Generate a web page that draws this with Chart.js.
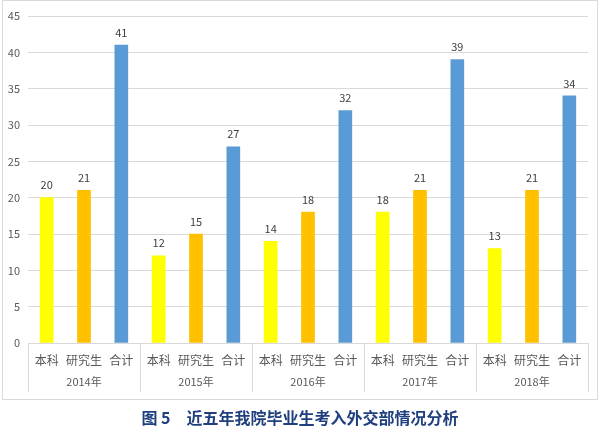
<!DOCTYPE html>
<html>
<head>
<meta charset="utf-8">
<script src="https://cdn.jsdelivr.net/npm/chart.js@4"></script>
<style>
  html, body { margin: 0; padding: 0; background: #fff; }
  #wrap { width: 600px; height: 428px; position: relative; }
</style>
</head>
<body>
<div id="wrap"><canvas id="chart"></canvas></div>
<script>
// groups (years) and the three bars per group
const years = ['2014年', '2015年', '2016年', '2017年', '2018年'];
const kinds = ['本科', '研究生', '合计'];

// values
const undergrad = [20, 12, 14, 18, 13];
const graduate = [21, 15, 18, 21, 21];
const total = [41, 27, 32, 39, 34];

const kindColors = ['#FFFF00', '#FFC000', '#5B9BD5'];
const titleText = '图 5　近五年我院毕业生考入外交部情况分析';
const font = '"Noto Sans CJK SC", "Noto Sans", sans-serif';

// flatten into 15 categories
const labels = [];
const values = [];
const colors = [];
years.forEach((y, i) => {
    const row = [undergrad[i], graduate[i], total[i]];
    kinds.forEach((k, j) => {
        labels.push(k);
        values.push(row[j]);
        colors.push(kindColors[j]);
    });
});

// value labels above bars, year row, separators, frame and title
const decorations = {
    id: 'decorations',
    afterDatasetsDraw(chart) {
        const ctx = chart.ctx;
        const meta = chart.getDatasetMeta(0);
        ctx.save();
        ctx.fillStyle = '#404040';
        ctx.font = '11px ' + font;
        ctx.textAlign = 'center';
        ctx.textBaseline = 'bottom';
        meta.data.forEach((bar, i) => {
            ctx.fillText(values[i], bar.x, bar.y - 7);
        });
        ctx.restore();
    },
    afterDraw(chart) {
        const ctx = chart.ctx;
        const x = chart.scales.x;
        const area = chart.chartArea;
        const step = x.getPixelForValue(1) - x.getPixelForValue(0);
        ctx.save();
        // group separators
        ctx.strokeStyle = '#D9D9D9';
        ctx.lineWidth = 1;
        for (let g = 0; g <= years.length; g++) {
            const px = Math.round(x.getPixelForValue(g * 3) - step / 2) + 0.5;
            ctx.beginPath();
            ctx.moveTo(px, area.bottom);
            ctx.lineTo(px, area.bottom + 49);
            ctx.stroke();
        }
        // year labels
        ctx.fillStyle = '#595959';
        ctx.font = '11px ' + font;
        ctx.textAlign = 'center';
        ctx.textBaseline = 'middle';
        years.forEach((y, g) => {
            ctx.fillText(y, x.getPixelForValue(g * 3 + 1), area.bottom + 39);
        });
        // outer frame
        ctx.strokeStyle = '#D9D9D9';
        ctx.strokeRect(2.5, 0.5, 595, 399);
        // caption
        ctx.fillStyle = '#1F3F7F';
        ctx.font = 'bold 16px ' + font;
        ctx.fillText(titleText, 300, 418);
        ctx.restore();
    }
};

new Chart(document.getElementById('chart'), {
    type: 'bar',
    data: {
        labels: labels,
        datasets: [{
            data: values,
            backgroundColor: colors,
            barThickness: 13
        }]
    },
    options: {
        responsive: true,
        maintainAspectRatio: false,
        animation: false,
        layout: { padding: { top: 16, right: 12, bottom: 28, left: 0 } },
        plugins: {
            legend: { display: false },
            tooltip: { enabled: false }
        },
        scales: {
            x: {
                grid: { display: false },
                border: { display: true, color: '#D9D9D9' },
                ticks: {
                    color: '#595959',
                    font: { family: font, size: 12 },
                    padding: 2,
                    maxRotation: 0,
                    autoSkip: false
                },
                afterFit(s) { s.height = 57; }
            },
            y: {
                min: 0,
                max: 45,
                ticks: {
                    stepSize: 5,
                    color: '#595959',
                    font: { family: font, size: 11 },
                    padding: 8
                },
                grid: { color: '#D9D9D9', drawTicks: false },
                border: { display: false },
                afterFit(s) { s.width = 28; }
            }
        }
    },
    plugins: [decorations]
});
</script>
</body>
</html>
